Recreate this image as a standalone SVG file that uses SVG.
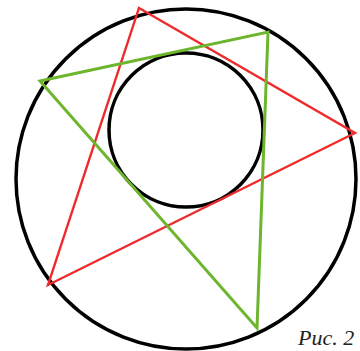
<svg xmlns="http://www.w3.org/2000/svg" width="360" height="351" viewBox="0 0 360 351">
<style>
.circ{fill:none;stroke:#000;stroke-width:3.5}
.red{fill:none;stroke:#ee2a2a;stroke-width:2.4;stroke-linejoin:miter}
.green{fill:none;stroke:#6cb52d;stroke-width:3;stroke-linejoin:miter}
.lbl{font-family:"Liberation Serif",serif;font-style:italic;font-size:22px;fill:#222}
</style>
<rect width="360" height="351" fill="#fff"/>
<g id="outer-circle"><circle class="circ" cx="186" cy="179" r="170"/></g>
<g id="inner-circle"><circle class="circ" cx="186" cy="130" r="77"/></g>
<g id="connectors">
<polygon id="red-triangle" class="red" points="139,8 355,133 48,285"/>
<polygon id="green-triangle" class="green" points="40,81 268,32 257,328"/>
</g>
<g id="caption"><text class="lbl" x="298" y="345">Рис. 2</text></g>
</svg>
